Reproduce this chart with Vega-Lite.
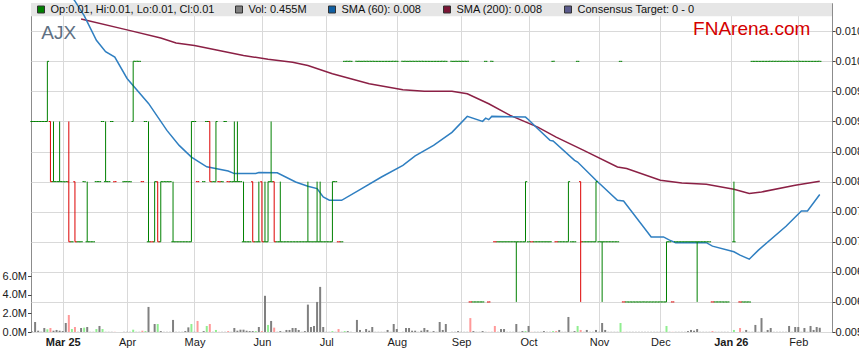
{
"$schema": "https://vega.github.io/schema/vega-lite/v6.json",
"width": 801, "height": 329,
"autosize": {"type": "none"},
"padding": {"left": 31, "top": 3, "right": 27, "bottom": 31},
"background": "white",
"datasets": {
"p": [
{"d":"2025-02-17","o":0.009,"c":0.009,"v":60000},
{"d":"2025-02-18","o":0.009,"c":0.009,"v":1080000},
{"d":"2025-02-19","o":0.009,"c":0.009,"v":140000},
{"d":"2025-02-20","o":0.009,"c":0.009,"v":30000},
{"d":"2025-02-21","o":0.009,"c":0.009,"v":430000},
{"d":"2025-02-24","o":0.009,"h":0.010,"l":0.009,"c":0.010,"v":290000,"ch":"u"},
{"d":"2025-02-25","o":0.009,"h":0.009,"l":0.008,"c":0.008,"v":430000,"ch":"d"},
{"d":"2025-02-26","o":0.008,"h":0.009,"l":0.008,"c":0.008,"v":140000},
{"d":"2025-02-27","o":0.008,"c":0.008,"v":220000},
{"d":"2025-02-28","o":0.008,"h":0.009,"l":0.008,"c":0.008,"v":140000},
{"d":"2025-03-03","o":0.008,"c":0.008,"v":100000},
{"d":"2025-03-04","o":0.008,"c":0.008,"v":970000},
{"d":"2025-03-05","o":0.008,"h":0.009,"l":0.007,"c":0.007,"v":1830000,"ch":"d"},
{"d":"2025-03-06","o":0.007,"c":0.007,"v":320000,"ch":"u"},
{"d":"2025-03-07","o":0.008,"h":0.008,"l":0.007,"c":0.007,"v":540000,"ch":"d"},
{"d":"2025-03-10","o":0.007,"c":0.007,"v":20000},
{"d":"2025-03-11","o":0.007,"c":0.007,"v":430000},
{"d":"2025-03-12","o":0.008,"c":0.008,"v":470000,"ch":"u"},
{"d":"2025-03-13","o":0.007,"h":0.008,"l":0.007,"c":0.007,"v":540000},
{"d":"2025-03-14","o":0.007,"c":0.007,"v":20000},
{"d":"2025-03-17","o":0.007,"c":0.007,"v":20000},
{"d":"2025-03-18","o":0.008,"c":0.008,"v":320000,"ch":"u"},
{"d":"2025-03-19","o":0.008,"c":0.008,"v":650000},
{"d":"2025-03-20","o":0.009,"c":0.009,"v":320000,"ch":"u"},
{"d":"2025-03-21","o":0.008,"h":0.009,"l":0.008,"c":0.008,"v":20000},
{"d":"2025-03-24","o":0.008,"c":0.008,"v":20000},
{"d":"2025-03-25","o":0.009,"c":0.009,"v":20000},
{"d":"2025-03-26","o":0.008,"c":0.008,"v":20000,"ch":"d"},
{"d":"2025-03-27","v":0},
{"d":"2025-03-28","v":0},
{"d":"2025-03-31","o":0.008,"c":0.008,"v":20000},
{"d":"2025-04-01","o":0.008,"c":0.008,"v":20000},
{"d":"2025-04-02","o":0.008,"c":0.008,"v":20000},
{"d":"2025-04-03","o":0.009,"h":0.010,"l":0.009,"c":0.010,"v":250000,"ch":"u"},
{"d":"2025-04-04","o":0.010,"c":0.010,"v":20000},
{"d":"2025-04-07","o":0.010,"c":0.010,"v":20000},
{"d":"2025-04-08","o":0.008,"c":0.008,"v":140000,"ch":"d"},
{"d":"2025-04-09","o":0.009,"c":0.009,"v":100000,"ch":"u"},
{"d":"2025-04-10","o":0.007,"h":0.009,"l":0.007,"c":0.007,"v":2700000},
{"d":"2025-04-11","o":0.007,"c":0.007,"v":20000,"ch":"d"},
{"d":"2025-04-14","o":0.007,"h":0.008,"l":0.007,"c":0.008,"v":860000},
{"d":"2025-04-15","o":0.008,"h":0.008,"l":0.007,"c":0.007,"v":860000,"ch":"u"},
{"d":"2025-04-16","o":0.007,"h":0.008,"l":0.007,"c":0.008,"v":100000},
{"d":"2025-04-17","o":0.008,"c":0.008,"v":20000},
{"d":"2025-04-18","o":0.008,"c":0.008,"v":20000},
{"d":"2025-04-21","o":0.008,"c":0.008,"v":20000},
{"d":"2025-04-22","o":0.007,"h":0.008,"l":0.007,"c":0.007,"v":1300000},
{"d":"2025-04-23","o":0.007,"c":0.007,"v":20000},
{"d":"2025-04-24","o":0.007,"c":0.007,"v":20000},
{"d":"2025-04-25","o":0.007,"c":0.007,"v":20000},
{"d":"2025-04-28","o":0.007,"c":0.007,"v":100000},
{"d":"2025-04-29","o":0.007,"c":0.007,"v":500000},
{"d":"2025-04-30","o":0.007,"h":0.009,"l":0.007,"c":0.009,"v":860000,"ch":"u"},
{"d":"2025-05-01","o":0.009,"c":0.009,"v":20000},
{"d":"2025-05-02","o":0.008,"c":0.008,"v":1190000,"ch":"d"},
{"d":"2025-05-05","v":0},
{"d":"2025-05-06","o":0.008,"c":0.008,"v":100000},
{"d":"2025-05-07","o":0.009,"c":0.009,"v":650000,"ch":"u"},
{"d":"2025-05-08","o":0.009,"h":0.009,"l":0.008,"c":0.008,"v":860000,"ch":"d"},
{"d":"2025-05-09","o":0.008,"c":0.008,"v":20000},
{"d":"2025-05-12","o":0.008,"h":0.009,"l":0.008,"c":0.009,"v":220000,"ch":"u"},
{"d":"2025-05-13","o":0.008,"c":0.008,"v":20000,"ch":"d"},
{"d":"2025-05-14","o":0.008,"c":0.008,"v":20000},
{"d":"2025-05-15","o":0.009,"c":0.009,"v":20000},
{"d":"2025-05-16","o":0.008,"c":0.008,"v":100000,"ch":"d"},
{"d":"2025-05-19","o":0.008,"c":0.008,"v":20000},
{"d":"2025-05-20","o":0.008,"h":0.009,"l":0.008,"c":0.008,"v":430000},
{"d":"2025-05-21","o":0.008,"h":0.009,"l":0.008,"c":0.008,"v":140000},
{"d":"2025-05-22","o":0.008,"c":0.008,"v":250000},
{"d":"2025-05-23","o":0.007,"h":0.008,"l":0.007,"c":0.007,"v":250000},
{"d":"2025-05-26","o":0.007,"c":0.007,"v":140000},
{"d":"2025-05-27","o":0.007,"c":0.007,"v":100000},
{"d":"2025-05-28","o":0.008,"h":0.008,"l":0.007,"c":0.007,"v":100000},
{"d":"2025-05-29","o":0.007,"c":0.007,"v":100000,"ch":"u"},
{"d":"2025-05-30","o":0.007,"h":0.008,"l":0.007,"c":0.007,"v":540000},
{"d":"2025-06-02","o":0.008,"h":0.008,"l":0.007,"c":0.007,"v":100000,"ch":"d"},
{"d":"2025-06-03","o":0.007,"h":0.008,"l":0.007,"c":0.007,"v":3900000},
{"d":"2025-06-04","o":0.007,"h":0.008,"l":0.007,"c":0.008,"v":760000,"ch":"u"},
{"d":"2025-06-05","o":0.008,"h":0.009,"l":0.008,"c":0.008,"v":1190000},
{"d":"2025-06-06","o":0.008,"h":0.008,"l":0.007,"c":0.007,"v":470000,"ch":"d"},
{"d":"2025-06-09","o":0.007,"c":0.007,"v":20000},
{"d":"2025-06-10","o":0.007,"h":0.008,"l":0.007,"c":0.007,"v":100000},
{"d":"2025-06-11","o":0.007,"c":0.007,"v":20000},
{"d":"2025-06-12","o":0.007,"c":0.007,"v":220000},
{"d":"2025-06-13","o":0.007,"c":0.007,"v":220000},
{"d":"2025-06-16","o":0.007,"c":0.007,"v":430000},
{"d":"2025-06-17","o":0.007,"c":0.007,"v":430000},
{"d":"2025-06-18","o":0.007,"c":0.007,"v":220000},
{"d":"2025-06-19","o":0.007,"c":0.007,"v":20000},
{"d":"2025-06-20","o":0.007,"c":0.007,"v":100000},
{"d":"2025-06-23","o":0.007,"h":0.008,"l":0.007,"c":0.007,"v":2950000},
{"d":"2025-06-24","o":0.007,"c":0.007,"v":540000},
{"d":"2025-06-25","o":0.007,"c":0.007,"v":650000},
{"d":"2025-06-26","o":0.007,"h":0.008,"l":0.007,"c":0.007,"v":3240000},
{"d":"2025-06-27","o":0.007,"h":0.008,"l":0.007,"c":0.007,"v":4860000},
{"d":"2025-06-30","o":0.007,"c":0.007,"v":540000},
{"d":"2025-07-01","o":0.007,"c":0.007,"v":20000},
{"d":"2025-07-02","o":0.007,"c":0.007,"v":20000},
{"d":"2025-07-03","o":0.007,"h":0.008,"l":0.007,"c":0.008,"v":100000,"ch":"u"},
{"d":"2025-07-04","o":0.008,"c":0.008,"v":20000},
{"d":"2025-07-07","o":0.007,"c":0.007,"v":320000,"ch":"d"},
{"d":"2025-07-08","o":0.007,"c":0.007,"v":20000},
{"d":"2025-07-09","o":0.010,"c":0.010,"v":100000,"ch":"u"},
{"d":"2025-07-10","o":0.010,"c":0.010,"v":100000},
{"d":"2025-07-11","o":0.010,"c":0.010,"v":20000},
{"d":"2025-07-14","v":0},
{"d":"2025-07-15","o":0.010,"c":0.010,"v":1300000},
{"d":"2025-07-16","o":0.010,"c":0.010,"v":220000},
{"d":"2025-07-17","o":0.010,"c":0.010,"v":20000},
{"d":"2025-07-18","o":0.010,"c":0.010,"v":320000},
{"d":"2025-07-21","o":0.010,"c":0.010,"v":140000},
{"d":"2025-07-22","o":0.010,"c":0.010,"v":540000},
{"d":"2025-07-23","o":0.010,"c":0.010,"v":20000},
{"d":"2025-07-24","o":0.010,"c":0.010,"v":20000},
{"d":"2025-07-25","o":0.010,"c":0.010,"v":20000},
{"d":"2025-07-28","o":0.010,"c":0.010,"v":20000},
{"d":"2025-07-29","o":0.010,"c":0.010,"v":220000},
{"d":"2025-07-30","o":0.010,"c":0.010,"v":20000},
{"d":"2025-07-31","o":0.010,"c":0.010,"v":860000},
{"d":"2025-08-01","o":0.010,"c":0.010,"v":320000},
{"d":"2025-08-04","v":0},
{"d":"2025-08-05","o":0.010,"c":0.010,"v":20000},
{"d":"2025-08-06","o":0.010,"c":0.010,"v":430000},
{"d":"2025-08-07","o":0.010,"c":0.010,"v":430000},
{"d":"2025-08-08","o":0.010,"c":0.010,"v":140000},
{"d":"2025-08-11","o":0.010,"c":0.010,"v":140000},
{"d":"2025-08-12","o":0.010,"c":0.010,"v":20000},
{"d":"2025-08-13","o":0.010,"c":0.010,"v":140000},
{"d":"2025-08-14","o":0.010,"c":0.010,"v":430000},
{"d":"2025-08-15","o":0.010,"c":0.010,"v":220000},
{"d":"2025-08-18","o":0.010,"c":0.010,"v":20000},
{"d":"2025-08-19","o":0.010,"c":0.010,"v":100000},
{"d":"2025-08-20","o":0.010,"c":0.010,"v":20000},
{"d":"2025-08-21","o":0.010,"c":0.010,"v":1080000},
{"d":"2025-08-22","o":0.010,"c":0.010,"v":220000},
{"d":"2025-08-25","o":0.010,"c":0.010,"v":860000},
{"d":"2025-08-26","v":0},
{"d":"2025-08-27","o":0.010,"c":0.010,"v":20000},
{"d":"2025-08-28","o":0.010,"c":0.010,"v":20000},
{"d":"2025-08-29","o":0.010,"c":0.010,"v":100000},
{"d":"2025-09-01","o":0.010,"c":0.010,"v":20000},
{"d":"2025-09-02","o":0.010,"c":0.010,"v":20000},
{"d":"2025-09-03","o":0.010,"c":0.010,"v":20000},
{"d":"2025-09-04","o":0.006,"c":0.006,"v":1500000,"ch":"d"},
{"d":"2025-09-05","o":0.006,"c":0.006,"v":100000},
{"d":"2025-09-08","o":0.006,"c":0.006,"v":20000},
{"d":"2025-09-09","o":0.006,"c":0.006,"v":20000},
{"d":"2025-09-10","o":0.006,"c":0.006,"v":100000},
{"d":"2025-09-11","o":0.010,"c":0.010,"v":20000},
{"d":"2025-09-12","o":0.006,"c":0.006,"v":20000,"ch":"d"},
{"d":"2025-09-15","o":0.010,"c":0.010,"v":20000},
{"d":"2025-09-16","o":0.007,"c":0.007,"v":650000,"ch":"d"},
{"d":"2025-09-17","o":0.007,"c":0.007,"v":20000},
{"d":"2025-09-18","o":0.007,"c":0.007,"v":320000},
{"d":"2025-09-19","o":0.007,"c":0.007,"v":320000},
{"d":"2025-09-22","o":0.007,"c":0.007,"v":20000},
{"d":"2025-09-23","o":0.007,"c":0.007,"v":20000},
{"d":"2025-09-24","o":0.007,"c":0.007,"v":20000},
{"d":"2025-09-25","o":0.007,"h":0.007,"l":0.006,"c":0.007,"v":860000},
{"d":"2025-09-26","o":0.007,"c":0.007,"v":20000},
{"d":"2025-09-29","o":0.007,"c":0.007,"v":100000},
{"d":"2025-09-30","o":0.007,"h":0.008,"l":0.007,"c":0.008,"v":100000,"ch":"u"},
{"d":"2025-10-01","o":0.007,"c":0.007,"v":650000},
{"d":"2025-10-02","o":0.007,"c":0.007,"v":20000,"ch":"d"},
{"d":"2025-10-03","o":0.007,"c":0.007,"v":20000},
{"d":"2025-10-06","o":0.007,"c":0.007,"v":20000},
{"d":"2025-10-07","o":0.007,"c":0.007,"v":20000},
{"d":"2025-10-08","o":0.007,"c":0.007,"v":100000},
{"d":"2025-10-09","o":0.007,"c":0.007,"v":20000},
{"d":"2025-10-10","o":0.007,"c":0.007,"v":20000},
{"d":"2025-10-13","o":0.010,"c":0.010,"v":100000,"ch":"u"},
{"d":"2025-10-14","o":0.007,"c":0.007,"v":100000,"ch":"d"},
{"d":"2025-10-15","o":0.007,"c":0.007,"v":220000},
{"d":"2025-10-16","o":0.007,"c":0.007,"v":20000},
{"d":"2025-10-17","o":0.007,"c":0.007,"v":20000},
{"d":"2025-10-20","o":0.007,"h":0.008,"l":0.007,"c":0.008,"v":1620000},
{"d":"2025-10-21","o":0.007,"c":0.007,"v":20000},
{"d":"2025-10-22","o":0.007,"c":0.007,"v":100000},
{"d":"2025-10-23","o":0.010,"c":0.010,"v":650000,"ch":"u"},
{"d":"2025-10-24","o":0.008,"h":0.008,"l":0.006,"c":0.007,"v":220000,"ch":"d"},
{"d":"2025-10-27","o":0.007,"c":0.007,"v":20000},
{"d":"2025-10-28","o":0.007,"c":0.007,"v":220000},
{"d":"2025-10-29","o":0.007,"c":0.007,"v":20000},
{"d":"2025-10-30","o":0.007,"c":0.007,"v":20000},
{"d":"2025-10-31","o":0.007,"h":0.008,"l":0.007,"c":0.008,"v":220000},
{"d":"2025-11-03","o":0.007,"c":0.007,"v":20000},
{"d":"2025-11-04","o":0.007,"h":0.007,"l":0.006,"c":0.007,"v":970000},
{"d":"2025-11-05","o":0.007,"c":0.007,"v":220000},
{"d":"2025-11-06","o":0.007,"c":0.007,"v":20000},
{"d":"2025-11-07","o":0.007,"c":0.007,"v":20000},
{"d":"2025-11-10","o":0.007,"c":0.007,"v":20000},
{"d":"2025-11-11","o":0.007,"c":0.007,"v":20000},
{"d":"2025-11-12","o":0.010,"c":0.010,"v":970000,"ch":"u"},
{"d":"2025-11-13","o":0.006,"c":0.006,"v":20000,"ch":"d"},
{"d":"2025-11-14","o":0.006,"c":0.006,"v":20000},
{"d":"2025-11-17","o":0.006,"c":0.006,"v":20000},
{"d":"2025-11-18","o":0.006,"c":0.006,"v":20000},
{"d":"2025-11-19","o":0.006,"c":0.006,"v":20000},
{"d":"2025-11-20","o":0.006,"c":0.006,"v":20000},
{"d":"2025-11-21","o":0.006,"c":0.006,"v":20000},
{"d":"2025-11-24","o":0.006,"c":0.006,"v":20000},
{"d":"2025-11-25","o":0.006,"c":0.006,"v":20000},
{"d":"2025-11-26","o":0.006,"c":0.006,"v":20000},
{"d":"2025-11-27","o":0.006,"c":0.006,"v":20000},
{"d":"2025-11-28","o":0.006,"c":0.006,"v":20000},
{"d":"2025-12-01","o":0.006,"c":0.006,"v":20000},
{"d":"2025-12-02","o":0.006,"c":0.006,"v":20000},
{"d":"2025-12-03","o":0.006,"h":0.007,"l":0.006,"c":0.007,"v":650000,"ch":"u"},
{"d":"2025-12-04","o":0.007,"c":0.007,"v":20000},
{"d":"2025-12-05","o":0.006,"c":0.006,"v":20000,"ch":"d"},
{"d":"2025-12-08","o":0.007,"c":0.007,"v":20000},
{"d":"2025-12-09","o":0.007,"c":0.007,"v":20000},
{"d":"2025-12-10","o":0.007,"c":0.007,"v":20000},
{"d":"2025-12-11","o":0.007,"c":0.007,"v":20000},
{"d":"2025-12-12","o":0.007,"c":0.007,"v":100000},
{"d":"2025-12-15","o":0.007,"c":0.007,"v":220000},
{"d":"2025-12-16","o":0.007,"c":0.007,"v":140000},
{"d":"2025-12-17","o":0.007,"h":0.007,"l":0.006,"c":0.007,"v":320000},
{"d":"2025-12-18","o":0.007,"c":0.007,"v":20000},
{"d":"2025-12-19","o":0.007,"c":0.007,"v":20000},
{"d":"2025-12-22","o":0.007,"c":0.007,"v":20000},
{"d":"2025-12-23","o":0.007,"c":0.007,"v":20000},
{"d":"2025-12-24","o":0.006,"c":0.006,"v":100000,"ch":"d"},
{"d":"2025-12-25","o":0.006,"c":0.006,"v":20000},
{"d":"2025-12-26","o":0.006,"c":0.006,"v":20000},
{"d":"2025-12-29","o":0.006,"c":0.006,"v":20000},
{"d":"2025-12-30","o":0.006,"c":0.006,"v":20000},
{"d":"2025-12-31","o":0.006,"c":0.006,"v":20000},
{"d":"2026-01-01","v":0},
{"d":"2026-01-02","o":0.007,"h":0.008,"l":0.007,"c":0.007,"v":220000,"ch":"u"},
{"d":"2026-01-05","v":0},
{"d":"2026-01-06","o":0.006,"c":0.006,"v":430000,"ch":"d"},
{"d":"2026-01-07","o":0.006,"c":0.006,"v":20000},
{"d":"2026-01-08","o":0.006,"c":0.006,"v":220000},
{"d":"2026-01-09","o":0.006,"c":0.006,"v":20000},
{"d":"2026-01-12","o":0.010,"c":0.010,"v":20000},
{"d":"2026-01-13","o":0.010,"c":0.010,"v":760000},
{"d":"2026-01-14","o":0.010,"c":0.010,"v":20000},
{"d":"2026-01-15","o":0.010,"c":0.010,"v":1500000},
{"d":"2026-01-16","o":0.010,"c":0.010,"v":20000},
{"d":"2026-01-19","o":0.010,"c":0.010,"v":220000},
{"d":"2026-01-20","o":0.010,"c":0.010,"v":430000},
{"d":"2026-01-21","o":0.010,"c":0.010,"v":20000},
{"d":"2026-01-22","o":0.010,"c":0.010,"v":20000},
{"d":"2026-01-23","o":0.010,"c":0.010,"v":20000},
{"d":"2026-01-26","o":0.010,"c":0.010,"v":20000},
{"d":"2026-01-27","o":0.010,"c":0.010,"v":20000},
{"d":"2026-01-28","o":0.010,"c":0.010,"v":650000},
{"d":"2026-01-29","o":0.010,"c":0.010,"v":20000},
{"d":"2026-01-30","o":0.010,"c":0.010,"v":540000},
{"d":"2026-02-02","o":0.010,"c":0.010,"v":540000},
{"d":"2026-02-03","o":0.010,"c":0.010,"v":20000},
{"d":"2026-02-04","o":0.010,"c":0.010,"v":430000},
{"d":"2026-02-05","o":0.010,"c":0.010,"v":20000},
{"d":"2026-02-06","o":0.010,"c":0.010,"v":650000},
{"d":"2026-02-09","o":0.010,"c":0.010,"v":220000},
{"d":"2026-02-10","o":0.010,"c":0.010,"v":540000},
{"d":"2026-02-11","o":0.010,"c":0.010,"v":455000},
{"d":"2026-02-12","v":0},
{"d":"2026-02-13","v":0},
{"d":"2026-02-16","v":0}
],
"s60": [
{"d":"2025-03-05","v":0.01115},{"d":"2025-03-07","v":0.011},{"d":"2025-03-12","v":0.01076},{"d":"2025-03-18","v":0.01035},
{"d":"2025-03-21","v":0.01016},{"d":"2025-03-26","v":0.01007},{"d":"2025-04-01","v":0.009715},{"d":"2025-04-10","v":0.0093},
{"d":"2025-04-18","v":0.008852},{"d":"2025-04-24","v":0.008603},{"d":"2025-04-30","v":0.008409},{"d":"2025-05-07","v":0.008246},
{"d":"2025-05-16","v":0.008177},{"d":"2025-05-20","v":0.008134},{"d":"2025-05-29","v":0.008134},{"d":"2025-05-30","v":0.00815},
{"d":"2025-06-09","v":0.008147},{"d":"2025-06-17","v":0.007994},{"d":"2025-06-23","v":0.007923},{"d":"2025-06-26","v":0.007885},
{"d":"2025-06-30","v":0.007745},{"d":"2025-07-02","v":0.00769},{"d":"2025-07-08","v":0.00769},{"d":"2025-07-16","v":0.007868},
{"d":"2025-07-25","v":0.008077},{"d":"2025-08-05","v":0.008271},{"d":"2025-08-11","v":0.008429},{"d":"2025-08-19","v":0.008603},
{"d":"2025-08-27","v":0.008819},{"d":"2025-09-03","v":0.009085},{"d":"2025-09-10","v":0.009002},{"d":"2025-09-11","v":0.009056},
{"d":"2025-09-12","v":0.00903},{"d":"2025-09-15","v":0.009085},{"d":"2025-09-30","v":0.009073},{"d":"2025-10-01","v":0.00903},
{"d":"2025-10-06","v":0.00888},{"d":"2025-10-10","v":0.008686},{"d":"2025-10-13","v":0.008675},{"d":"2025-10-22","v":0.008354},
{"d":"2025-10-23","v":0.008326},{"d":"2025-10-31","v":0.008022},{"d":"2025-11-11","v":0.00769},{"d":"2025-11-13","v":0.007679},
{"d":"2025-11-26","v":0.007081},{"d":"2025-12-02","v":0.007081},{"d":"2025-12-04","v":0.007027},{"d":"2025-12-08","v":0.006985},
{"d":"2025-12-22","v":0.006985},{"d":"2025-12-24","v":0.006927},{"d":"2026-01-02","v":0.006833},{"d":"2026-01-06","v":0.006778},
{"d":"2026-01-09","v":0.006711},{"d":"2026-01-14","v":0.006861},{"d":"2026-01-27","v":0.007259},{"d":"2026-02-03","v":0.007513},
{"d":"2026-02-05","v":0.007513},{"d":"2026-02-11","v":0.007785}
],
"s200": [
{"d":"2025-03-11","v":0.010703},{"d":"2025-04-01","v":0.010523},{"d":"2025-04-16","v":0.010387},{"d":"2025-04-23","v":0.010304},
{"d":"2025-05-01","v":0.010263},{"d":"2025-05-13","v":0.01018},{"d":"2025-05-23","v":0.010097},{"d":"2025-06-04","v":0.010035},
{"d":"2025-06-16","v":0.009986},{"d":"2025-06-23","v":0.009931},{"d":"2025-07-03","v":0.009793},{"d":"2025-07-11","v":0.00971},
{"d":"2025-07-21","v":0.009627},{"d":"2025-08-05","v":0.009528},{"d":"2025-08-14","v":0.009504},{"d":"2025-08-27","v":0.009504},
{"d":"2025-09-03","v":0.009461},{"d":"2025-09-12","v":0.009295},{"d":"2025-09-23","v":0.009101},{"d":"2025-10-06","v":0.008907},
{"d":"2025-10-14","v":0.008741},{"d":"2025-10-27","v":0.00852},{"d":"2025-11-11","v":0.008243},{"d":"2025-11-14","v":0.008217},
{"d":"2025-12-01","v":0.008022},{"d":"2025-12-10","v":0.007978},{"d":"2025-12-22","v":0.007956},{"d":"2026-01-02","v":0.007873},
{"d":"2026-01-09","v":0.007802},{"d":"2026-01-15","v":0.007828},{"d":"2026-01-30","v":0.007939},{"d":"2026-02-11","v":0.008006}
],
"leg": [
{"k":"Op:0.01, Hi:0.01, Lo:0.01, Cl:0.01"},
{"k":"Vol: 0.455M"},
{"k":"SMA (60): 0.008"},
{"k":"SMA (200): 0.008"},
{"k":"Consensus Target: 0 - 0"}
]
},
"layer": [
{
"data": {"name": "p"},
"mark": {"type": "rule", "strokeWidth": 2},
"encoding": {
"x": {"field": "d", "type": "ordinal", "title": null,
"scale": {"type": "point", "padding": 0.67, "align": 0.254},
"axis": {"values": ["2025-03-03","2025-04-01","2025-05-01","2025-06-02","2025-07-01","2025-08-01","2025-09-01","2025-10-01","2025-11-03","2025-12-01","2026-01-01","2026-02-02"],
"labelExpr": "datum.value == '2025-03-03' ? 'Mar 25' : datum.value == '2026-01-01' ? 'Jan 26' : utcFormat(toDate(datum.value), '%b')",
"labelFontWeight": {"condition": {"test": "datum.value == '2025-03-03' || datum.value == '2026-01-01'", "value": "bold"}, "value": "normal"},
"labelAngle": 0, "labelOverlap": false, "ticks": false, "grid": true, "labelPadding": 4}},
"y": {"field": "v", "type": "quantitative", "title": null,
"scale": {"domain": [0, 35440000]},
"axis": {"orient": "left", "values": [0, 2000000, 4000000, 6000000], "labelExpr": "format(datum.value / 1000000, '.1f') + 'M'", "grid": false, "tickSize": 3.5, "labelPadding": 1, "labelOverlap": false}},
"y2": {"datum": 0},
"color": {"condition": [{"test": "datum.ch == 'u'", "value": "#90ee90"}, {"test": "datum.ch == 'd'", "value": "#ff9999"}], "value": "#808080"}
}
},
{
"layer": [
{
"data": {"values": [{}]},
"mark": {"type": "rect", "color": "#e6e6e6"},
"encoding": {
"y": {"datum": 0.01075, "type": "quantitative", "title": null, "scale": {"domain": [0.0055, 0.01097]},
"axis": {"orient": "right", "values": [0.0055,0.006,0.0065,0.007,0.0075,0.008,0.0085,0.009,0.0095,0.01,0.0105], "labelExpr": "format(floor(datum.value * 1000 + 0.0001) / 1000, '.3f')", "grid": true, "tickSize": 3, "labelPadding": 0, "labelOverlap": false}},
"y2": {"datum": 0.01097}
}
},
{
"data": {"name": "s200"},
"mark": {"type": "line", "color": "#8b2045", "strokeWidth": 1.5},
"encoding": {
"x": {"field": "d", "type": "ordinal", "title": null, "scale": {"type": "point", "padding": 0.67, "align": 0.254}},
"y": {"field": "v", "type": "quantitative", "title": null, "scale": {"domain": [0.0055, 0.01097]},
"axis": {"orient": "right", "values": [0.0055,0.006,0.0065,0.007,0.0075,0.008,0.0085,0.009,0.0095,0.01,0.0105], "labelExpr": "format(floor(datum.value * 1000 + 0.0001) / 1000, '.3f')", "grid": true, "tickSize": 3, "labelPadding": 0, "labelOverlap": false}}
}
},
{
"data": {"name": "s60"},
"mark": {"type": "line", "color": "#2f7fc1", "strokeWidth": 1.5},
"encoding": {
"x": {"field": "d", "type": "ordinal", "title": null, "scale": {"type": "point", "padding": 0.67, "align": 0.254}},
"y": {"field": "v", "type": "quantitative", "title": null, "scale": {"domain": [0.0055, 0.01097]},
"axis": {"orient": "right", "values": [0.0055,0.006,0.0065,0.007,0.0075,0.008,0.0085,0.009,0.0095,0.01,0.0105], "labelExpr": "format(floor(datum.value * 1000 + 0.0001) / 1000, '.3f')", "grid": true, "tickSize": 3, "labelPadding": 0, "labelOverlap": false}}
}
},
{
"data": {"name": "p"},
"transform": [{"filter": "isValid(datum.h)"}],
"mark": {"type": "rule", "strokeWidth": 1},
"encoding": {
"x": {"field": "d", "type": "ordinal", "title": null, "scale": {"type": "point", "padding": 0.67, "align": 0.254}},
"y": {"field": "h", "type": "quantitative", "title": null, "scale": {"domain": [0.0055, 0.01097]},
"axis": {"orient": "right", "values": [0.0055,0.006,0.0065,0.007,0.0075,0.008,0.0085,0.009,0.0095,0.01,0.0105], "labelExpr": "format(floor(datum.value * 1000 + 0.0001) / 1000, '.3f')", "grid": true, "tickSize": 3, "labelPadding": 0, "labelOverlap": false}},
"y2": {"field": "l"},
"color": {"condition": {"test": "datum.ch == 'd' || datum.c < datum.o", "value": "#dd0000"}, "value": "#008000"}
}
},
{
"data": {"name": "p"},
"transform": [{"filter": "isValid(datum.o)"}],
"mark": {"type": "tick", "orient": "horizontal", "size": 1.7, "thickness": 1, "xOffset": -0.85, "opacity": 1},
"encoding": {
"x": {"field": "d", "type": "ordinal", "title": null, "scale": {"type": "point", "padding": 0.67, "align": 0.254}},
"y": {"field": "o", "type": "quantitative", "title": null, "scale": {"domain": [0.0055, 0.01097]},
"axis": {"orient": "right", "values": [0.0055,0.006,0.0065,0.007,0.0075,0.008,0.0085,0.009,0.0095,0.01,0.0105], "labelExpr": "format(floor(datum.value * 1000 + 0.0001) / 1000, '.3f')", "grid": true, "tickSize": 3, "labelPadding": 0, "labelOverlap": false}},
"color": {"condition": {"test": "datum.ch == 'd' || datum.c < datum.o", "value": "#dd0000"}, "value": "#008000"}
}
},
{
"data": {"name": "p"},
"transform": [{"filter": "isValid(datum.c)"}],
"mark": {"type": "tick", "orient": "horizontal", "size": 1.7, "thickness": 1, "xOffset": 0.85, "opacity": 1},
"encoding": {
"x": {"field": "d", "type": "ordinal", "title": null, "scale": {"type": "point", "padding": 0.67, "align": 0.254}},
"y": {"field": "c", "type": "quantitative", "title": null, "scale": {"domain": [0.0055, 0.01097]},
"axis": {"orient": "right", "values": [0.0055,0.006,0.0065,0.007,0.0075,0.008,0.0085,0.009,0.0095,0.01,0.0105], "labelExpr": "format(floor(datum.value * 1000 + 0.0001) / 1000, '.3f')", "grid": true, "tickSize": 3, "labelPadding": 0, "labelOverlap": false}},
"color": {"condition": {"test": "datum.ch == 'd' || datum.c < datum.o", "value": "#dd0000"}, "value": "#008000"}
}
},
{
"data": {"values": [{}]},
"mark": {"type": "text", "text": "AJX", "align": "left", "baseline": "alphabetic", "fontSize": 19, "font": "Liberation Sans", "color": "#5e7083"},
"encoding": {
"x": {"datum": "2025-02-20", "type": "ordinal", "title": null, "scale": {"type": "point", "padding": 0.67, "align": 0.254}},
"y": {"datum": 0.01037, "type": "quantitative", "title": null, "scale": {"domain": [0.0055, 0.01097]},
"axis": {"orient": "right", "values": [0.0055,0.006,0.0065,0.007,0.0075,0.008,0.0085,0.009,0.0095,0.01,0.0105], "labelExpr": "format(floor(datum.value * 1000 + 0.0001) / 1000, '.3f')", "grid": true, "tickSize": 3, "labelPadding": 0, "labelOverlap": false}}
}
},
{
"data": {"values": [{}]},
"mark": {"type": "text", "text": "FNArena.com", "align": "left", "baseline": "alphabetic", "fontSize": 19, "font": "Liberation Sans", "color": "#d40000", "dx": -1},
"encoding": {
"x": {"datum": "2025-12-16", "type": "ordinal", "title": null, "scale": {"type": "point", "padding": 0.67, "align": 0.254}},
"y": {"datum": 0.01044, "type": "quantitative", "title": null, "scale": {"domain": [0.0055, 0.01097]},
"axis": {"orient": "right", "values": [0.0055,0.006,0.0065,0.007,0.0075,0.008,0.0085,0.009,0.0095,0.01,0.0105], "labelExpr": "format(floor(datum.value * 1000 + 0.0001) / 1000, '.3f')", "grid": true, "tickSize": 3, "labelPadding": 0, "labelOverlap": false}}
}
},
{
"data": {"name": "leg"},
"mark": {"type": "square", "size": 49, "opacity": 1, "clip": true},
"encoding": {
"x": {"datum": "2025-02-17", "type": "ordinal", "title": null, "scale": {"type": "point", "padding": 0.67, "align": 0.254}},
"y": {"datum": 0, "type": "quantitative", "title": null, "scale": {"domain": [0.0055, 0.01097]},
"axis": {"orient": "right", "values": [0.0055,0.006,0.0065,0.007,0.0075,0.008,0.0085,0.009,0.0095,0.01,0.0105], "labelExpr": "format(floor(datum.value * 1000 + 0.0001) / 1000, '.3f')", "grid": true, "tickSize": 3, "labelPadding": 0, "labelOverlap": false}},
"color": {"field": "k", "type": "nominal",
"scale": {"domain": ["Op:0.01, Hi:0.01, Lo:0.01, Cl:0.01","Vol: 0.455M","SMA (60): 0.008","SMA (200): 0.008","Consensus Target: 0 - 0"],
"range": ["#008000","#808080","#0f5fa3","#7a1535","#5b5b8c"]},
"legend": {"title": null, "orient": "none", "legendX": 4.5, "legendY": 1, "direction": "horizontal",
"symbolType": "square", "symbolSize": 49, "symbolStrokeColor": "#333333", "symbolStrokeWidth": 1, "symbolOpacity": 1,
"labelFont": "Liberation Sans", "labelFontSize": 11, "labelColor": "#111111", "labelLimit": 400, "labelOffset": 4,
"columnPadding": 19, "padding": 0}}
}
}
]
}
],
"resolve": {"scale": {"y": "independent"}},
"config": {
"view": {"stroke": "#8c8c8c", "strokeWidth": 1},
"font": "Liberation Sans",
"axis": {"domain": false, "labelFont": "Liberation Sans", "labelFontSize": 11, "labelColor": "#1a1a1a", "gridColor": "#d9d9d9", "gridWidth": 1, "tickColor": "#444444", "tickWidth": 1}
}
}
